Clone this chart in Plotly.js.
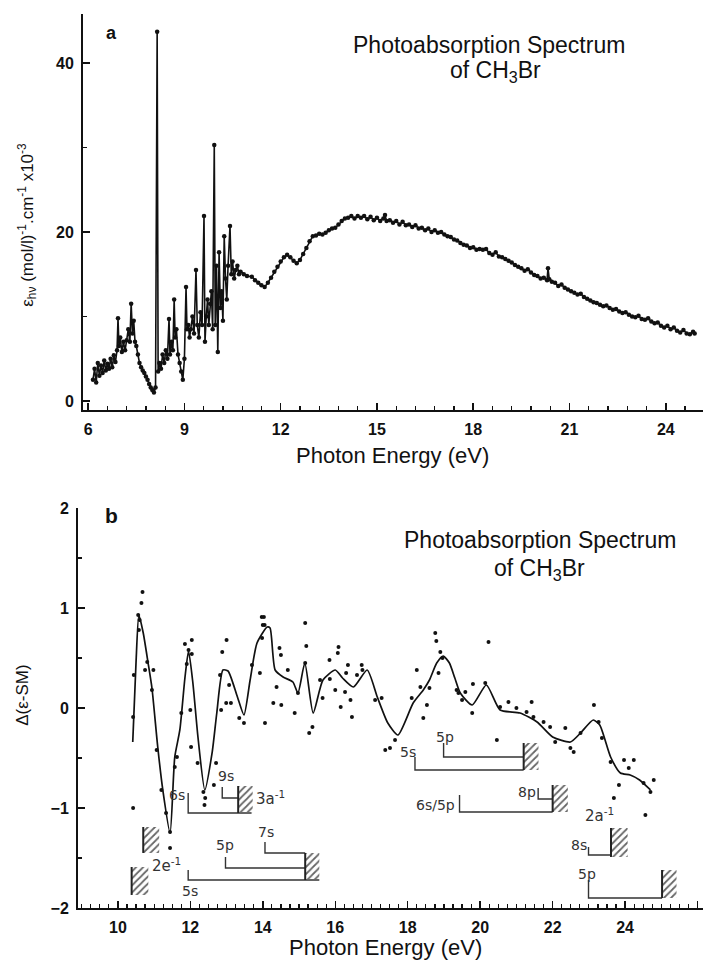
<!DOCTYPE html>
<html>
<head>
<meta charset="utf-8">
<script src="https://cdn.plot.ly/plotly-3.0.1.min.js"></script>
<style>html,body{margin:0;padding:0;background:#fff;}#chart{width:703px;height:960px;}</style>
</head>
<body>
<div id="chart"></div>
<script>
// ---- Panel a: photoabsorption spectrum ----
const topE = [6.15,6.2,6.25,6.3,6.35,6.4,6.45,6.5,6.55,6.6,6.65,6.7,6.75,6.8,6.85,6.9,6.93,6.96,7.0,7.05,7.1,7.15,7.2,7.25,7.3,7.34,7.38,7.42,7.46,7.5,7.55,7.6,7.65,7.7,7.75,7.8,7.85,7.9,7.95,8.0,8.05,8.1,8.15,8.18,8.22,8.27,8.32,8.37,8.42,8.47,8.52,8.55,8.6,8.64,8.68,8.71,8.75,8.8,8.85,8.9,8.95,9.0,9.05,9.08,9.12,9.16,9.2,9.25,9.3,9.36,9.4,9.45,9.5,9.55,9.61,9.64,9.68,9.72,9.76,9.8,9.84,9.88,9.93,9.96,10.0,10.04,10.08,10.12,10.16,10.2,10.24,10.28,10.32,10.36,10.42,10.46,10.5,10.55,10.6,10.65,10.7,10.75,10.85,10.95,11.1,11.2,11.3,11.4,11.5,11.6,11.7,11.8,11.9,12.0,12.1,12.2,12.3,12.4,12.5,12.6,12.7,12.8,12.9,13.0,13.1,13.2,13.3,13.4,13.5,13.6,13.7,13.8,13.9,14.0,14.1,14.2,14.3,14.4,14.5,14.6,14.7,14.8,14.9,15.0,15.1,15.2,15.25,15.3,15.4,15.5,15.6,15.7,15.8,15.9,16.0,16.1,16.2,16.3,16.4,16.5,16.6,16.7,16.8,16.9,17.0,17.1,17.2,17.3,17.4,17.5,17.6,17.7,17.8,17.9,18.0,18.1,18.2,18.3,18.4,18.5,18.6,18.7,18.8,18.9,19.0,19.1,19.2,19.3,19.4,19.5,19.6,19.7,19.8,19.9,20.0,20.1,20.2,20.3,20.33,20.37,20.45,20.55,20.65,20.75,20.85,20.95,21.05,21.15,21.25,21.35,21.45,21.55,21.65,21.75,21.85,21.95,22.05,22.15,22.25,22.35,22.45,22.55,22.65,22.75,22.85,22.95,23.05,23.15,23.25,23.35,23.45,23.55,23.65,23.75,23.85,23.95,24.05,24.15,24.25,24.35,24.45,24.55,24.65,24.75,24.85,24.9];
const topEps = [2.5,3.8,2.2,4.5,3.0,4.2,3.3,4.8,3.6,4.4,3.8,5.0,4.0,5.4,4.6,6.0,9.8,6.5,7.5,5.8,7.0,6.0,7.2,8.5,7.0,11.5,8.0,9.5,7.0,6.5,5.5,4.5,4.0,3.6,3.3,2.9,2.5,2.0,1.6,1.3,1.0,1.6,43.7,3.5,4.5,3.8,5.5,4.5,6.0,5.0,9.7,5.5,7.0,6.0,12.0,7.5,8.5,5.5,4.5,3.5,2.5,5.0,13.5,8.5,9.0,7.5,8.5,10.0,8.0,15.5,9.0,7.5,10.5,9.0,21.9,7.0,10.0,12.0,9.0,11.5,13.0,8.5,30.3,9.0,16.0,5.8,17.6,11.0,13.0,9.5,19.5,14.5,12.0,16.0,20.7,15.0,16.5,14.5,15.5,16.0,15.0,15.3,15.0,14.8,14.7,14.3,14.0,13.7,13.5,14.0,14.6,15.3,15.9,16.5,17.0,17.3,17.0,16.6,16.3,16.7,17.4,18.1,18.9,19.5,19.6,19.8,19.7,19.9,20.2,20.4,20.5,20.9,21.3,21.6,21.7,21.9,21.6,21.9,21.7,21.9,21.5,21.8,21.4,21.7,21.3,21.6,22.0,21.3,21.4,21.1,21.3,20.9,21.2,20.8,20.9,20.6,20.8,20.4,20.5,20.2,20.4,20.0,20.2,19.9,20.0,19.7,19.5,19.4,19.1,19.0,18.7,18.5,18.4,18.1,18.2,17.9,18.0,17.9,18.0,17.5,17.3,17.6,17.1,17.0,16.8,16.6,16.4,16.1,15.9,15.7,15.4,15.6,15.2,14.9,14.8,14.5,14.6,14.3,15.7,14.4,14.1,14.0,13.6,13.8,13.4,13.2,13.0,12.8,12.6,12.7,12.3,12.1,11.9,11.7,11.6,11.4,11.2,11.3,11.0,10.8,10.9,10.6,10.4,10.5,10.2,10.0,9.9,10.1,9.7,9.6,9.8,9.4,9.2,9.3,8.9,8.7,8.9,8.5,8.7,8.3,8.1,8.4,8.0,7.9,8.2,8.0];
const topXTicks = [6,9,12,15,18,21,24];
const topYTicks = [0,20,40];

// ---- Panel b: difference spectrum ----
const fitE = [10.41,10.5,10.58,10.7,10.83,10.94,11.1,11.24,11.44,11.57,11.71,11.85,11.95,12.07,12.21,12.4,12.6,12.73,12.9,13.04,13.3,13.48,13.65,13.84,14.12,14.2,14.34,14.56,14.83,14.97,15.16,15.39,15.66,16.0,16.2,16.5,16.88,17.16,17.45,17.73,18.15,18.43,18.6,18.8,18.98,19.15,19.3,19.45,19.78,20.17,20.55,21.1,21.57,22.0,22.49,22.77,23.12,23.3,23.6,23.87,24.14,24.4,24.7];
const fitD = [-0.34,0.45,0.93,0.75,0.46,0.2,-0.39,-0.82,-1.25,-0.49,-0.22,0.3,0.57,0.25,-0.29,-0.82,-0.45,-0.05,0.38,0.37,0.11,-0.07,0.28,0.65,0.81,0.8,0.38,0.31,0.26,0.15,0.45,-0.05,0.28,0.38,0.3,0.21,0.38,0.11,-0.15,-0.27,0.05,0.18,0.28,0.45,0.52,0.45,0.3,0.15,0.03,0.23,-0.02,-0.05,-0.14,-0.29,-0.34,-0.25,-0.12,-0.17,-0.49,-0.65,-0.67,-0.72,-0.82];
const dotE = [10.42,10.42,10.44,10.56,10.58,10.6,10.65,10.68,10.75,10.81,10.94,10.98,11.07,11.2,11.33,11.44,11.44,11.57,11.63,11.75,11.85,11.9,11.95,12.0,12.02,12.04,12.04,12.2,12.36,12.39,12.41,12.65,12.71,12.82,12.85,12.88,12.99,13.0,13.07,13.12,13.35,13.48,13.7,13.92,13.97,13.98,14.0,14.03,14.05,14.06,14.29,14.38,14.46,14.5,14.51,14.69,14.88,14.97,15.17,15.2,15.17,15.28,15.37,15.58,15.65,15.84,15.85,16.0,16.07,16.09,16.15,16.27,16.3,16.35,16.42,16.46,16.6,16.73,16.75,17.1,17.28,17.38,17.51,17.65,18.11,18.25,18.35,18.43,18.53,18.6,18.76,18.79,18.85,18.9,18.96,19.35,19.4,19.5,19.59,19.78,19.8,20.14,20.23,20.46,20.55,20.78,21.0,21.28,21.42,21.47,21.75,21.93,22.07,22.35,22.49,22.58,22.77,23.14,23.27,23.36,23.6,23.69,23.83,23.97,24.1,24.24,24.51,24.56,24.7,24.79];
const dotD = [-1.0,-0.09,0.33,0.93,0.78,0.88,1.05,1.16,0.38,0.46,0.18,0.38,-0.42,-0.82,-1.05,-1.24,-1.4,-0.59,-0.49,-0.05,0.64,0.44,0.58,-0.02,-0.39,0.68,0.54,-0.55,-0.84,-0.97,-0.9,-0.77,-0.55,0.33,-0.02,0.56,0.05,0.68,0.23,0.05,-0.1,-0.15,0.43,0.35,0.91,0.7,0.83,0.91,0.83,-0.15,0.05,0.21,0.6,0.53,0.03,0.38,-0.05,0.15,0.85,0.62,0.45,-0.25,-0.19,0.28,0.1,0.48,0.29,0.18,0.55,0.61,0.01,0.16,0.35,0.43,0.08,-0.09,0.33,0.43,0.38,0.08,0.1,-0.42,-0.4,-0.32,0.1,0.38,0.21,-0.1,0.03,0.2,0.75,0.67,0.35,0.56,0.5,0.18,0.15,0.08,0.16,-0.05,0.24,0.25,0.66,-0.32,0.01,0.06,0.0,-0.04,0.06,-0.09,-0.14,-0.19,-0.34,-0.2,-0.4,-0.44,-0.25,0.03,-0.14,-0.3,-0.54,-0.9,-0.77,-0.52,-0.6,-0.52,-0.75,-1.07,-0.84,-0.72];
const botXTicks = [10,12,14,16,18,20,22,24,26];
const botYTicks = [-2,-1,0,1,2];

// Rydberg series brackets (energy onset, limit, level, tick top, label)
const seriesName  = ['6s','9s','5s','5p','7s','5s','5p','6s/5p','8p','8s','5p'];
const seriesStart = [11.94,12.88,11.94,12.97,14.06,18.2,18.99,19.43,21.6,22.99,22.99];
const seriesEnd   = [13.69,13.32,15.56,15.17,15.17,21.2,21.2,22.0,22.0,23.61,25.02];
const seriesLevel = [-1.05,-0.9,-1.72,-1.6,-1.45,-0.62,-0.49,-1.04,-0.91,-1.47,-1.9];
const seriesTop   = [-0.85,-0.79,-1.62,-1.49,-1.34,-0.49,-0.35,-0.87,-0.8,-1.39,-1.72];
const seriesLabX  = [11.62,12.98,11.98,12.95,14.1,18.0,19.02,18.78,21.3,22.72,22.95];
const seriesLabY  = [-0.87,-0.68,-1.83,-1.37,-1.24,-0.44,-0.29,-0.97,-0.84,-1.37,-1.66];
// ionization limits (hatched)
const limE0 = [13.32,10.7,10.38,15.17,21.2,22.0,23.61,25.02];
const limE1 = [13.72,11.14,10.84,15.56,21.61,22.42,24.07,25.42];
const limD0 = [-1.05,-1.45,-1.87,-1.72,-0.62,-1.04,-1.49,-1.9];
const limD1 = [-0.78,-1.19,-1.59,-1.45,-0.35,-0.77,-1.2,-1.62];
const ionName = ['3a<sup>-1</sup>','2e<sup>-1</sup>','2a<sup>-1</sup>'];
const ionE = [14.2,11.35,23.3];
const ionD = [-0.9,-1.57,-1.07];

const FONT = 'Liberation Sans, Arial, sans-serif';
const traces = [];
traces.push({x: topE, y: topEps, xaxis:'x', yaxis:'y', type:'scatter', mode:'lines+markers',
  line:{color:'#111', width:1.6}, marker:{color:'#111', size:4.5}, hoverinfo:'skip'});
traces.push({x: fitE, y: fitD, xaxis:'x2', yaxis:'y2', type:'scatter', mode:'lines',
  line:{color:'#111', width:1.7, shape:'spline', smoothing:0.6}, hoverinfo:'skip'});
traces.push({x: dotE, y: dotD, xaxis:'x2', yaxis:'y2', type:'scatter', mode:'markers',
  marker:{color:'#111', size:4}, hoverinfo:'skip'});
for (let i = 0; i < seriesName.length; i++) {
  traces.push({x:[seriesStart[i], seriesStart[i], seriesEnd[i]], y:[seriesTop[i], seriesLevel[i], seriesLevel[i]],
    xaxis:'x2', yaxis:'y2', type:'scatter', mode:'lines', line:{color:'#333', width:1.4}, hoverinfo:'skip'});
}
for (let i = 0; i < limE0.length; i++) {
  traces.push({x:[limE0[i], limE1[i], limE1[i], limE0[i], limE0[i]], y:[limD0[i], limD0[i], limD1[i], limD1[i], limD0[i]],
    xaxis:'x2', yaxis:'y2', type:'scatter', mode:'lines', fill:'toself', fillcolor:'rgba(255,255,255,0)',
    fillpattern:{shape:'/', fgcolor:'#666', bgcolor:'rgba(255,255,255,0)', size:5, solidity:0.35},
    line:{width:0, color:'rgba(0,0,0,0)'}, hoverinfo:'skip'});
  traces.push({x:[limE0[i], limE0[i]], y:[limD0[i], limD1[i]], xaxis:'x2', yaxis:'y2', type:'scatter', mode:'lines',
    line:{color:'#222', width:2}, hoverinfo:'skip'});
}

const annotations = [];
function ann(o){ annotations.push(Object.assign({showarrow:false, xanchor:'center', yanchor:'middle', font:{family:FONT, size:23, color:'#111'}}, o)); }
ann({text:'<b>a</b>', xref:'paper', yref:'paper', x:0.158, y:0.966, font:{family:FONT, size:18, color:'#111'}});
ann({text:'Photoabsorption Spectrum', xref:'paper', yref:'paper', x:0.696, y:0.953});
ann({text:'of CH<sub>3</sub>Br', xref:'paper', yref:'paper', x:0.705, y:0.925});
ann({text:'<b>b</b>', xref:'paper', yref:'paper', x:0.159, y:0.4635, font:{family:FONT, size:21, color:'#111'}});
ann({text:'Photoabsorption Spectrum', xref:'paper', yref:'paper', x:0.768, y:0.4375});
ann({text:'of CH<sub>3</sub>Br', xref:'paper', yref:'paper', x:0.767, y:0.407});
ann({text:'Photon Energy (eV)', xref:'paper', yref:'paper', x:0.559, y:0.526, font:{family:FONT, size:22, color:'#111'}});
ann({text:'Photon Energy (eV)', xref:'paper', yref:'paper', x:0.548, y:0.0135, font:{family:FONT, size:22, color:'#111'}});
ann({text:'ε<sub>hν</sub> (mol/l)<sup>-1</sup>.cm<sup>-1</sup> x10<sup>-3</sup>', xref:'paper', yref:'paper', x:0.038, y:0.7656, textangle:-90, font:{family:FONT, size:17, color:'#111'}});
ann({text:'Δ(ε-SM)', xref:'paper', yref:'paper', x:0.031, y:0.276, textangle:-90, font:{family:FONT, size:17, color:'#111'}});
for (let i = 0; i < seriesName.length; i++) {
  ann({text: seriesName[i], xref:'x2', yref:'y2', x: seriesLabX[i], y: seriesLabY[i], font:{family:'DejaVu Sans, sans-serif', size:14, color:'#333'}});
}
for (let i = 0; i < ionName.length; i++) {
  ann({text: ionName[i], xref:'x2', yref:'y2', x: ionE[i], y: ionD[i], font:{family:'DejaVu Sans, sans-serif', size:15, color:'#333'}});
}

const axisCommon = {showline:true, linecolor:'#111', linewidth:2, showgrid:false, zeroline:false,
  ticks:'inside', tickcolor:'#111', tickwidth:1.5, ticklen:7, tickfont:{family:FONT, size:16, color:'#111', weight:'bold'}, ticklabelstandoff:4};

const layout = {
  width:703, height:960, margin:{l:0, r:0, t:0, b:0}, showlegend:false,
  paper_bgcolor:'#fff', plot_bgcolor:'#fff',
  xaxis: Object.assign({}, axisCommon, {domain:[0.1181, 1], anchor:'y', range:[5.84, 25.16], tickvals: topXTicks,
    minor:{dtick:0.6, tick0:6, ticks:'inside', ticklen:4, tickwidth:1.2, tickcolor:'#111'}}),
  yaxis: Object.assign({}, axisCommon, {domain:[0.5729, 0.9854], anchor:'x', range:[-1.07, 45.8], tickvals: topYTicks,
    minor:{dtick:10, tick0:0, ticks:'inside', ticklen:4, tickwidth:1.2, tickcolor:'#111'}}),
  xaxis2: Object.assign({}, axisCommon, {domain:[0.111, 1], anchor:'y2', range:[8.9, 26.15], tickvals: botXTicks,
    minor:{dtick:0.25, tick0:10, ticks:'inside', ticklen:4, tickwidth:1.2, tickcolor:'#111'}}),
  yaxis2: Object.assign({}, axisCommon, {domain:[0.0542, 0.4708], anchor:'x2', range:[-2, 2], tickvals: botYTicks,
    minor:{dtick:0.5, tick0:0, ticks:'inside', ticklen:4, tickwidth:1.2, tickcolor:'#111'}}),
  annotations: annotations
};

Plotly.newPlot('chart', traces, layout, {staticPlot:true, displayModeBar:false});
</script>
</body>
</html>
